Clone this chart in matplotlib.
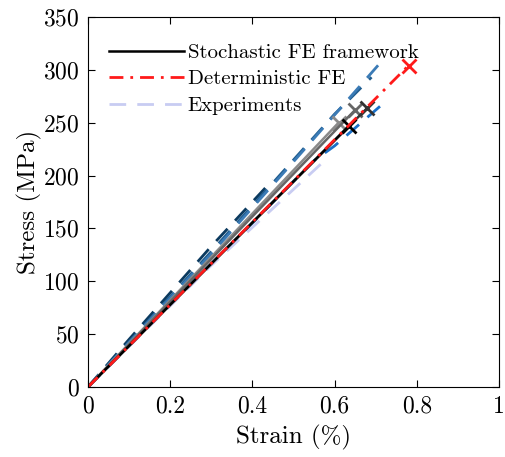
import matplotlib
matplotlib.use("Agg")
import matplotlib.pyplot as plt

plt.rcParams['font.family'] = 'serif'
plt.rcParams['font.serif'] = ['cmr10']
plt.rcParams['mathtext.fontset'] = 'cm'
plt.rcParams['axes.formatter.use_mathtext'] = True

# Experiments (dashed blues)
exp1_x = [0, 0.10, 0.30, 0.45]
exp1_y = [0, 45, 133, 196]
exp2_x = [0, 0.30, 0.60, 0.69]
exp2_y = [0, 128, 258, 293]
exp3_x = [0, 0.30, 0.50, 0.71]
exp3_y = [0, 126, 213, 306]
exp4_x = [0, 0.20, 0.40, 0.55, 0.60, 0.73]
exp4_y = [0, 78, 155, 214, 228, 272]
exp5_x = [0, 0.30, 0.57]
exp5_y = [0, 115, 212]

# Stochastic FE (solid greys)
sto1_x = [0, 0.61]
sto1_y = [0, 250]
sto2_x = [0, 0.65]
sto2_y = [0, 262]
sto3_x = [0, 0.68]
sto3_y = [0, 264]
sto4_x = [0, 0.635]
sto4_y = [0, 247]

# Deterministic FE
det_x = [0, 0.78]
det_y = [0, 304]

xticks = [0, 0.2, 0.4, 0.6, 0.8, 1]
xticklabels = ['0', '0.2', '0.4', '0.6', '0.8', '1']
yticks = [0, 50, 100, 150, 200, 250, 300, 350]

fig = plt.figure(figsize=(5.05, 4.57), dpi=100)
ax = fig.add_axes([0.174, 0.153, 0.814, 0.810])

lw = 2.0
dash = (0, (6, 4))
exps = [(exp1_x, exp1_y, '#0b3a5f'), (exp2_x, exp2_y, '#1f5c8e'),
        (exp3_x, exp3_y, '#3b7bb6'), (exp4_x, exp4_y, '#1a70c8'),
        (exp5_x, exp5_y, '#c8ccf2')]
for i, (x, y, c) in enumerate(exps):
    ax.plot(x, y, linestyle=dash, color=c, lw=lw,
            label='Experiments' if i == len(exps) - 1 else None)

stos = [(sto1_x, sto1_y, '#8a8a8a'), (sto2_x, sto2_y, '#666666'),
        (sto3_x, sto3_y, '#333333'), (sto4_x, sto4_y, '#000000')]
for i, (x, y, c) in enumerate(stos):
    ax.plot(x, y, '-', color=c, lw=1.8,
            label='Stochastic FE framework' if i == len(stos) - 1 else None)
    ax.plot(x[-1], y[-1], 'x', color=c, ms=10, mew=2)

ax.plot(det_x, det_y, linestyle=(0, (5, 2.5, 1, 2.5)), color='#ff1a1a', lw=lw,
        label='Deterministic FE')
ax.plot(det_x[-1], det_y[-1], 'x', color='#ff1a1a', ms=10, mew=2)

ax.set_xlim(0, 1)
ax.set_ylim(0, 350)
ax.set_xticks(xticks)
ax.set_xticklabels(xticklabels)
ax.set_yticks(yticks)
ax.tick_params(direction='in', top=True, right=True, labelsize=17, length=5, pad=6)
ax.set_xlabel('Strain (%)', fontsize=18, labelpad=5)
ax.set_ylabel('Stress (MPa)', fontsize=18, labelpad=1)

h, l = ax.get_legend_handles_labels()
order = [l.index('Stochastic FE framework'), l.index('Deterministic FE'), l.index('Experiments')]
ax.legend([h[i] for i in order], [l[i] for i in order], loc='upper left',
          frameon=False, fontsize=15, handlelength=3.6, handletextpad=0.2,
          borderaxespad=0.6, labelspacing=0.38, bbox_to_anchor=(0, 0.985))

fig.savefig('out.png', dpi=100)
